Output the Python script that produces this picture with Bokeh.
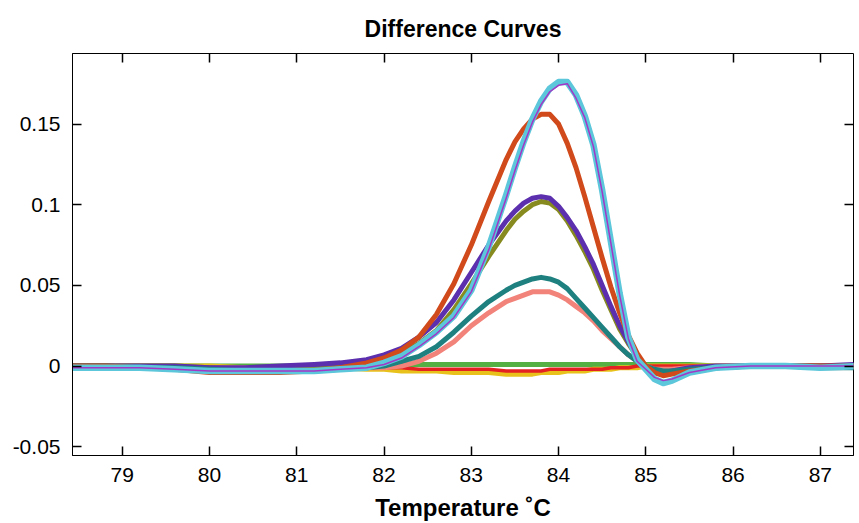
from bokeh.plotting import figure
from bokeh.models import LinearAxis, FixedTicker, CustomLabelingPolicy
from bokeh.embed import file_html
from bokeh.resources import INLINE

# ---- data ----
temperature = [78.4, 78.8, 79.2, 79.6, 80.0, 80.4, 80.8, 81.2, 81.5, 81.8,
               82.0, 82.2, 82.4, 82.6, 82.8, 83.0, 83.2, 83.4, 83.5, 83.6,
               83.7, 83.8, 83.9, 84.0, 84.1, 84.2, 84.3, 84.4, 84.5, 84.6,
               84.7, 84.8, 84.9, 85.0, 85.1, 85.2, 85.3, 85.5, 85.8, 86.2,
               86.6, 87.0, 87.4]

green_vals = [0.000, 0.000, 0.000, 0.000, 0.000, 0.000, 0.000, 0.000, 0.000, 0.001,
              0.001, 0.001, 0.001, 0.001, 0.001, 0.001, 0.001, 0.001, 0.001, 0.001,
              0.001, 0.001, 0.001, 0.001, 0.001, 0.001, 0.001, 0.001, 0.001, 0.001,
              0.001, 0.001, 0.001, 0.001, 0.001, 0.001, 0.001, 0.001, 0.000, 0.000,
              0.000, 0.000, 0.000]

yellow_vals = [0.000, 0.000, 0.000, 0.000, 0.000, -0.001, -0.001, -0.001, -0.001, -0.002,
               -0.002, -0.003, -0.003, -0.003, -0.004, -0.004, -0.004, -0.005, -0.005, -0.005,
               -0.005, -0.004, -0.004, -0.004, -0.003, -0.003, -0.003, -0.002, -0.002, -0.002,
               -0.001, -0.001, -0.001, 0.000, 0.000, 0.000, 0.000, 0.000, 0.000, 0.000,
               0.000, 0.000, 0.000]

red_vals = [0.000, 0.000, 0.000, -0.001, -0.001, -0.001, -0.001, -0.001, -0.001, -0.001,
            -0.001, -0.001, -0.002, -0.002, -0.002, -0.002, -0.002, -0.003, -0.003, -0.003,
            -0.003, -0.003, -0.002, -0.002, -0.002, -0.002, -0.002, -0.002, -0.002, -0.001,
            -0.001, -0.001, 0.000, 0.000, 0.000, 0.000, 0.000, 0.000, 0.000, 0.000,
            0.000, 0.000, 0.000]

salmon_vals = [0.000, 0.000, 0.000, -0.001, -0.001, -0.001, -0.001, -0.001, -0.001, -0.001,
               -0.001, 0.000, 0.003, 0.008, 0.015, 0.025, 0.033, 0.040, 0.042, 0.044,
               0.046, 0.046, 0.046, 0.044, 0.041, 0.037, 0.033, 0.028, 0.022, 0.017,
               0.012, 0.007, 0.003, 0.000, -0.002, -0.002, -0.002, -0.001, 0.000, 0.000,
               0.000, 0.000, 0.000]

teal_vals = [0.000, 0.000, -0.001, -0.001, -0.002, -0.003, -0.003, -0.003, -0.002, -0.001,
             0.000, 0.003, 0.006, 0.012, 0.021, 0.031, 0.040, 0.047, 0.050, 0.052,
             0.054, 0.055, 0.054, 0.052, 0.048, 0.042, 0.036, 0.030, 0.024, 0.018,
             0.012, 0.007, 0.003, 0.000, -0.002, -0.003, -0.003, -0.002, -0.001, 0.000,
             0.000, -0.001, -0.001]

olive_vals = [0.000, 0.000, 0.000, 0.000, -0.001, -0.002, -0.001, 0.000, 0.001, 0.003,
              0.005, 0.008, 0.014, 0.022, 0.035, 0.051, 0.068, 0.084, 0.091, 0.096,
              0.100, 0.102, 0.101, 0.097, 0.090, 0.081, 0.071, 0.060, 0.047, 0.035,
              0.023, 0.014, 0.006, 0.000, -0.004, -0.005, -0.004, -0.002, -0.001, 0.000,
              0.000, 0.000, 0.000]

purple_vals = [0.000, 0.000, 0.000, 0.000, -0.001, -0.001, 0.000, 0.001, 0.002, 0.004,
               0.007, 0.011, 0.018, 0.027, 0.041, 0.058, 0.075, 0.090, 0.096, 0.101,
               0.104, 0.105, 0.104, 0.099, 0.092, 0.084, 0.074, 0.063, 0.050, 0.037,
               0.025, 0.015, 0.006, 0.000, -0.003, -0.004, -0.003, -0.001, 0.000, 0.000,
               0.000, 0.000, 0.001]

orange_vals = [0.000, 0.000, -0.001, -0.002, -0.004, -0.004, -0.004, -0.003, -0.001, 0.002,
               0.005, 0.010, 0.018, 0.032, 0.051, 0.075, 0.102, 0.128, 0.139, 0.147,
               0.153, 0.156, 0.156, 0.150, 0.138, 0.123, 0.105, 0.086, 0.067, 0.049,
               0.033, 0.019, 0.008, 0.000, -0.004, -0.006, -0.005, -0.003, -0.001, 0.000,
               0.000, 0.000, 0.000]

cyan_vals = [-0.001, -0.001, -0.001, -0.002, -0.003, -0.003, -0.003, -0.003, -0.002, -0.001,
             0.002, 0.006, 0.013, 0.021, 0.031, 0.047, 0.074, 0.106, 0.123, 0.139,
             0.153, 0.164, 0.172, 0.176, 0.176, 0.168, 0.155, 0.137, 0.109, 0.077,
             0.045, 0.018, 0.004, -0.002, -0.008, -0.0105, -0.009, -0.004, -0.001, 0.000,
             0.000, -0.001, 0.000]

magenta_vals = [-0.001, -0.001, -0.001, -0.002, -0.003, -0.003, -0.003, -0.003, -0.002, -0.001,
                0.001, 0.005, 0.012, 0.020, 0.030, 0.046, 0.072, 0.104, 0.121, 0.137,
                0.151, 0.162, 0.170, 0.174, 0.175, 0.166, 0.154, 0.136, 0.108, 0.076,
                0.044, 0.017, 0.003, -0.002, -0.007, -0.009, -0.008, -0.004, -0.001, 0.000,
                0.000, 0.000, 0.000]

x_ticks = [79, 80, 81, 82, 83, 84, 85, 86, 87]
y_ticks = [-0.05, 0.0, 0.05, 0.1, 0.15]
y_tick_labels = ["-0.05", "0", "0.05", "0.1", "0.15"]

# ---- figure ----
FONT = "Liberation Sans"
p = figure(width=859, height=523, x_range=(78.43, 87.38), y_range=(-0.0554, 0.1937),
           output_backend="svg", toolbar_location=None, title="Difference Curves",
           min_border_left=72, min_border_right=0, min_border_top=53, min_border_bottom=65)
p.background_fill_color = "white"
p.border_fill_color = "white"
p.outline_line_color = "black"
p.outline_line_width = 1
p.xgrid.visible = False
p.ygrid.visible = False

p.title.text_font = FONT
p.title.text_font_size = "23px"
p.title.text_font_style = "bold"
p.title.align = "center"
p.title.text_color = "black"
p.title.standoff = 16

series = [
    (green_vals, "#55B043", 5),
    (yellow_vals, "#E8C21A", 5),
    (red_vals, "#E42222", 3.5),
    (salmon_vals, "#F2837A", 5),
    (olive_vals, "#878B1F", 5),
    (purple_vals, "#5B2FAE", 5),
    (teal_vals, "#1F8080", 5),
    (orange_vals, "#D04A1C", 5),
    (cyan_vals, "#5CC6DA", 6.5),
    (magenta_vals, "#A236C6", 1.5),
]
for vals, col, lw in series:
    p.line(temperature, vals, line_color=col, line_width=lw, line_join="round", line_cap="round")

# bottom axis
xa = p.xaxis[0]
xa.ticker = FixedTicker(ticks=x_ticks)
xa.axis_label = "Temperature \u02daC"
xa.axis_label_text_font = FONT
xa.axis_label_text_font_size = "24px"
xa.axis_label_text_font_style = "bold"
xa.axis_label_text_color = "black"
xa.axis_label_standoff = 9
xa.major_label_text_font = FONT
xa.major_label_text_font_size = "21px"
xa.major_label_text_color = "black"
xa.major_label_standoff = 12
xa.major_tick_in = 9
xa.major_tick_out = 0
xa.major_tick_line_width = 1.5
xa.minor_tick_line_color = None
xa.axis_line_color = "black"

# left axis
ya = p.yaxis[0]
ya.ticker = FixedTicker(ticks=y_ticks)
ya.major_label_overrides = {t: s for t, s in zip(y_ticks, y_tick_labels)}
ya.major_label_text_font = FONT
ya.major_label_text_font_size = "21px"
ya.major_label_text_color = "black"
ya.major_label_standoff = 12
ya.major_tick_in = 9
ya.major_tick_out = 0
ya.major_tick_line_width = 1.5
ya.minor_tick_line_color = None
ya.axis_line_color = "black"

# mirrored tick-only axes (top, right), labels filtered out
top = LinearAxis(ticker=FixedTicker(ticks=x_ticks), major_label_text_font_size="1px",
                 major_label_policy=CustomLabelingPolicy(code=""),
                 major_label_standoff=0, major_tick_in=9, major_tick_out=0,
                 major_tick_line_width=1.5, minor_tick_line_color=None, axis_line_color=None)
p.add_layout(top, "above")
right = LinearAxis(ticker=FixedTicker(ticks=y_ticks), major_label_text_font_size="1px",
                   major_label_policy=CustomLabelingPolicy(code=""),
                   major_label_standoff=0, major_tick_in=9, major_tick_out=0,
                   major_tick_line_width=1.5, minor_tick_line_color=None, axis_line_color=None)
p.add_layout(right, "right")

open("out.html", "w").write(file_html(p, INLINE))
